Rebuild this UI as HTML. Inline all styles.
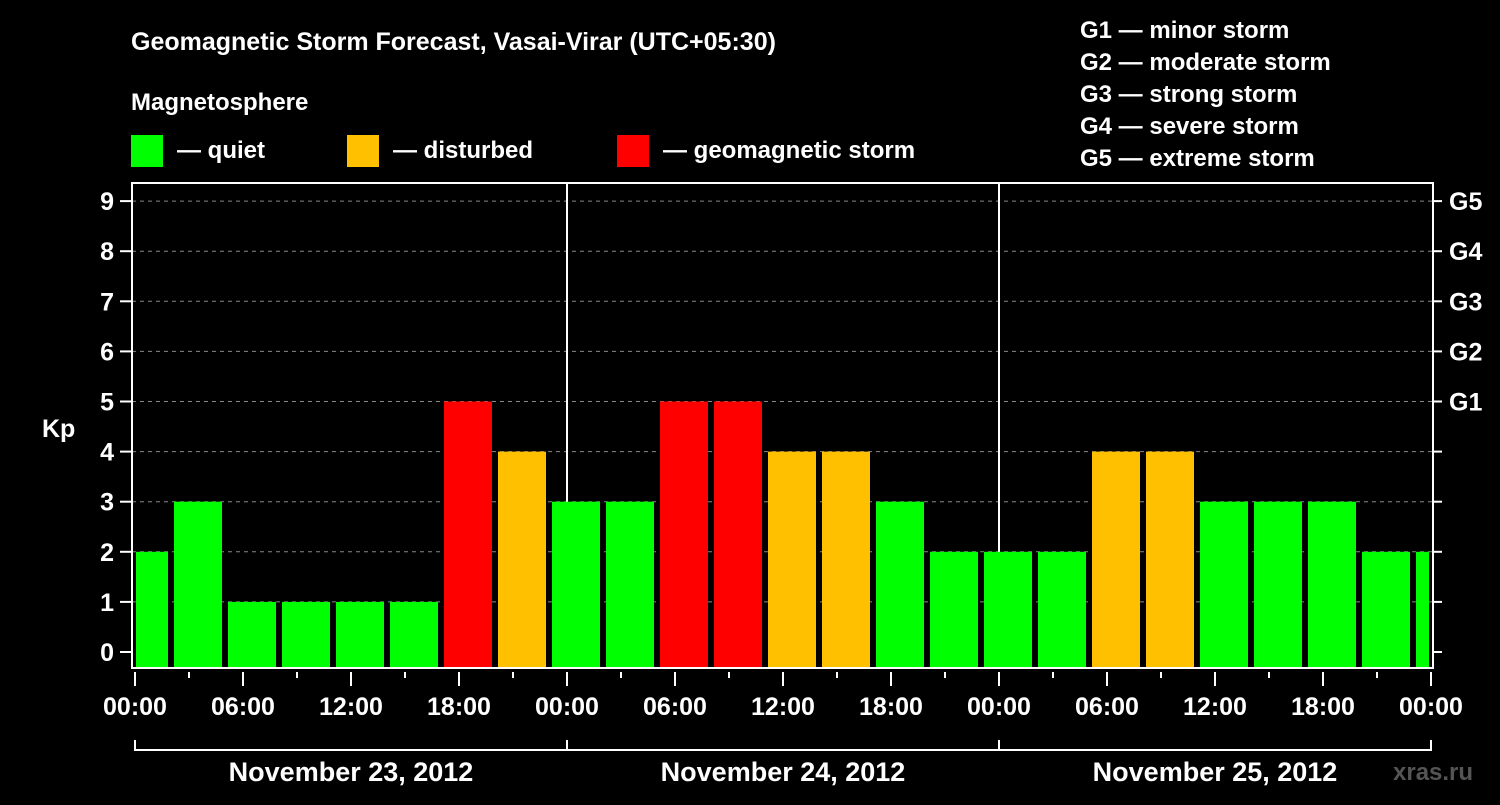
<!DOCTYPE html>
<html><head><meta charset="utf-8"><style>
body{margin:0;background:#000;width:1500px;height:800px;overflow:hidden;font-family:"Liberation Sans",Arial,sans-serif}
svg text{font-family:"Liberation Sans",Arial,sans-serif;font-weight:bold;fill:#fff}
</style></head><body>
<svg id="chart" width="1500" height="800" xmlns="http://www.w3.org/2000/svg">
<text x="131" y="50" font-size="25">Geomagnetic Storm Forecast, Vasai-Virar (UTC+05:30)</text>
<text x="131" y="110" font-size="24">Magnetosphere</text>
<g>
<rect x="131" y="135" width="32" height="32" fill="#00ff00"/>
<text x="177" y="158" font-size="24">— quiet</text>
<rect x="347" y="135" width="32" height="32" fill="#ffc000"/>
<text x="393" y="158" font-size="24">— disturbed</text>
<rect x="617" y="135" width="32" height="32" fill="#ff0000"/>
<text x="663" y="158" font-size="24">— geomagnetic storm</text>
</g>
<g font-size="24">
<text x="1080" y="38">G1 — minor storm</text>
<text x="1080" y="70">G2 — moderate storm</text>
<text x="1080" y="102">G3 — strong storm</text>
<text x="1080" y="134">G4 — severe storm</text>
<text x="1080" y="166">G5 — extreme storm</text>
</g>
<text x="42" y="437" font-size="25">Kp</text>
<text x="1393" y="780" font-size="24" fill="#555" style="fill:#555">xras.ru</text>
<g id="grid"></g><g id="bars"></g><g id="axes"></g>
</svg>
<script>
const kpValues=[2,3,1,1,1,1,5,4,3,3,5,5,4,4,3,2,2,2,4,4,3,3,3,2,2];
const barStartHours=[-1,2,5,8,11,14,17,20,23,26,29,32,35,38,41,44,47,50,53,56,59,62,65,68,71];
const yTicks=[0,1,2,3,4,5,6,7,8,9];
const gLabels=["G1","G2","G3","G4","G5"];
const gLevels=[5,6,7,8,9];
const xTickLabels=["00:00","06:00","12:00","18:00","00:00","06:00","12:00","18:00","00:00","06:00","12:00","18:00","00:00"];
const dayLabels=["November 23, 2012","November 24, 2012","November 25, 2012"];
const NS="http://www.w3.org/2000/svg";
const X0=135,PXH=18,PL=132,PR=1433,PT=183,PB=668;
const xs=h=>X0+h*PXH;
const ys=k=>652-k*50.1;
function mk(tag,attrs,parent,txt){const e=document.createElementNS(NS,tag);for(const k in attrs)e.setAttribute(k,attrs[k]);if(txt!==undefined)e.textContent=txt;parent.appendChild(e);return e;}
const grid=document.getElementById('grid'),bars=document.getElementById('bars'),axes=document.getElementById('axes');
yTicks.forEach(k=>{
 if(k>0){const l=mk('line',{x1:PL,x2:PR,y1:ys(k),y2:ys(k),stroke:'#888','stroke-dasharray':'4,4','stroke-width':1},grid);
 
 }
 const t=mk('line',{x1:120,x2:PL,y1:ys(k),y2:ys(k),stroke:'#fff','stroke-width':2},axes);
 
 
 const tx=mk('text',{x:114,y:ys(k)+9,'text-anchor':'end','font-size':25},axes,String(k));
 
 
 const rt=mk('line',{x1:PR,x2:1442,y1:ys(k),y2:ys(k),stroke:'#fff','stroke-width':2},axes);
 
 
});
gLabels.forEach((g,i)=>{
 const t=mk('text',{x:1449,y:ys(gLevels[i])+9,'font-size':25},axes,g);
 
 
});
kpValues.forEach((v,i)=>{
 let x1=xs(barStartHours[i])+3,x2=xs(barStartHours[i]+3)-3;
 x1=Math.max(x1,X0+1);x2=Math.min(x2,PR-4);
 const c=v>=5?'#ff0000':(v>=4?'#ffc000':'#00ff00');
 const r=mk('rect',{x:x1,y:ys(v),width:x2-x1,height:PB-ys(v),fill:c},bars);
 
 
});
[1,2].forEach(d=>{const l=mk('line',{x1:xs(24*d),x2:xs(24*d),y1:PT,y2:PB,stroke:'#fff','stroke-width':2},grid);
 
 });
const fr=mk('rect',{x:PL,y:PT,width:PR-PL,height:PB-PT,fill:'none',stroke:'#fff','stroke-width':2},axes);


for(let h=0;h<=72;h+=3){
 const major=h%6===0;
 const t=mk('line',{x1:xs(h),x2:xs(h),y1:672,y2:major?686:678,stroke:'#fff','stroke-width':2},axes);
 
 
}
xTickLabels.forEach((s,i)=>{
 const t=mk('text',{x:xs(i*6),y:715,'text-anchor':'middle','font-size':25},axes,s);
 
 
});
const br=mk('path',{d:`M${xs(0)},740V750H${xs(72)}V740M${xs(24)},740V750M${xs(48)},740V750`,stroke:'#fff','stroke-width':2,fill:'none'},axes);


dayLabels.forEach((s,i)=>{
 const t=mk('text',{x:xs(24*i+12),y:781,'text-anchor':'middle','font-size':27},axes,s);
 
 
});
</script>
</body></html>
